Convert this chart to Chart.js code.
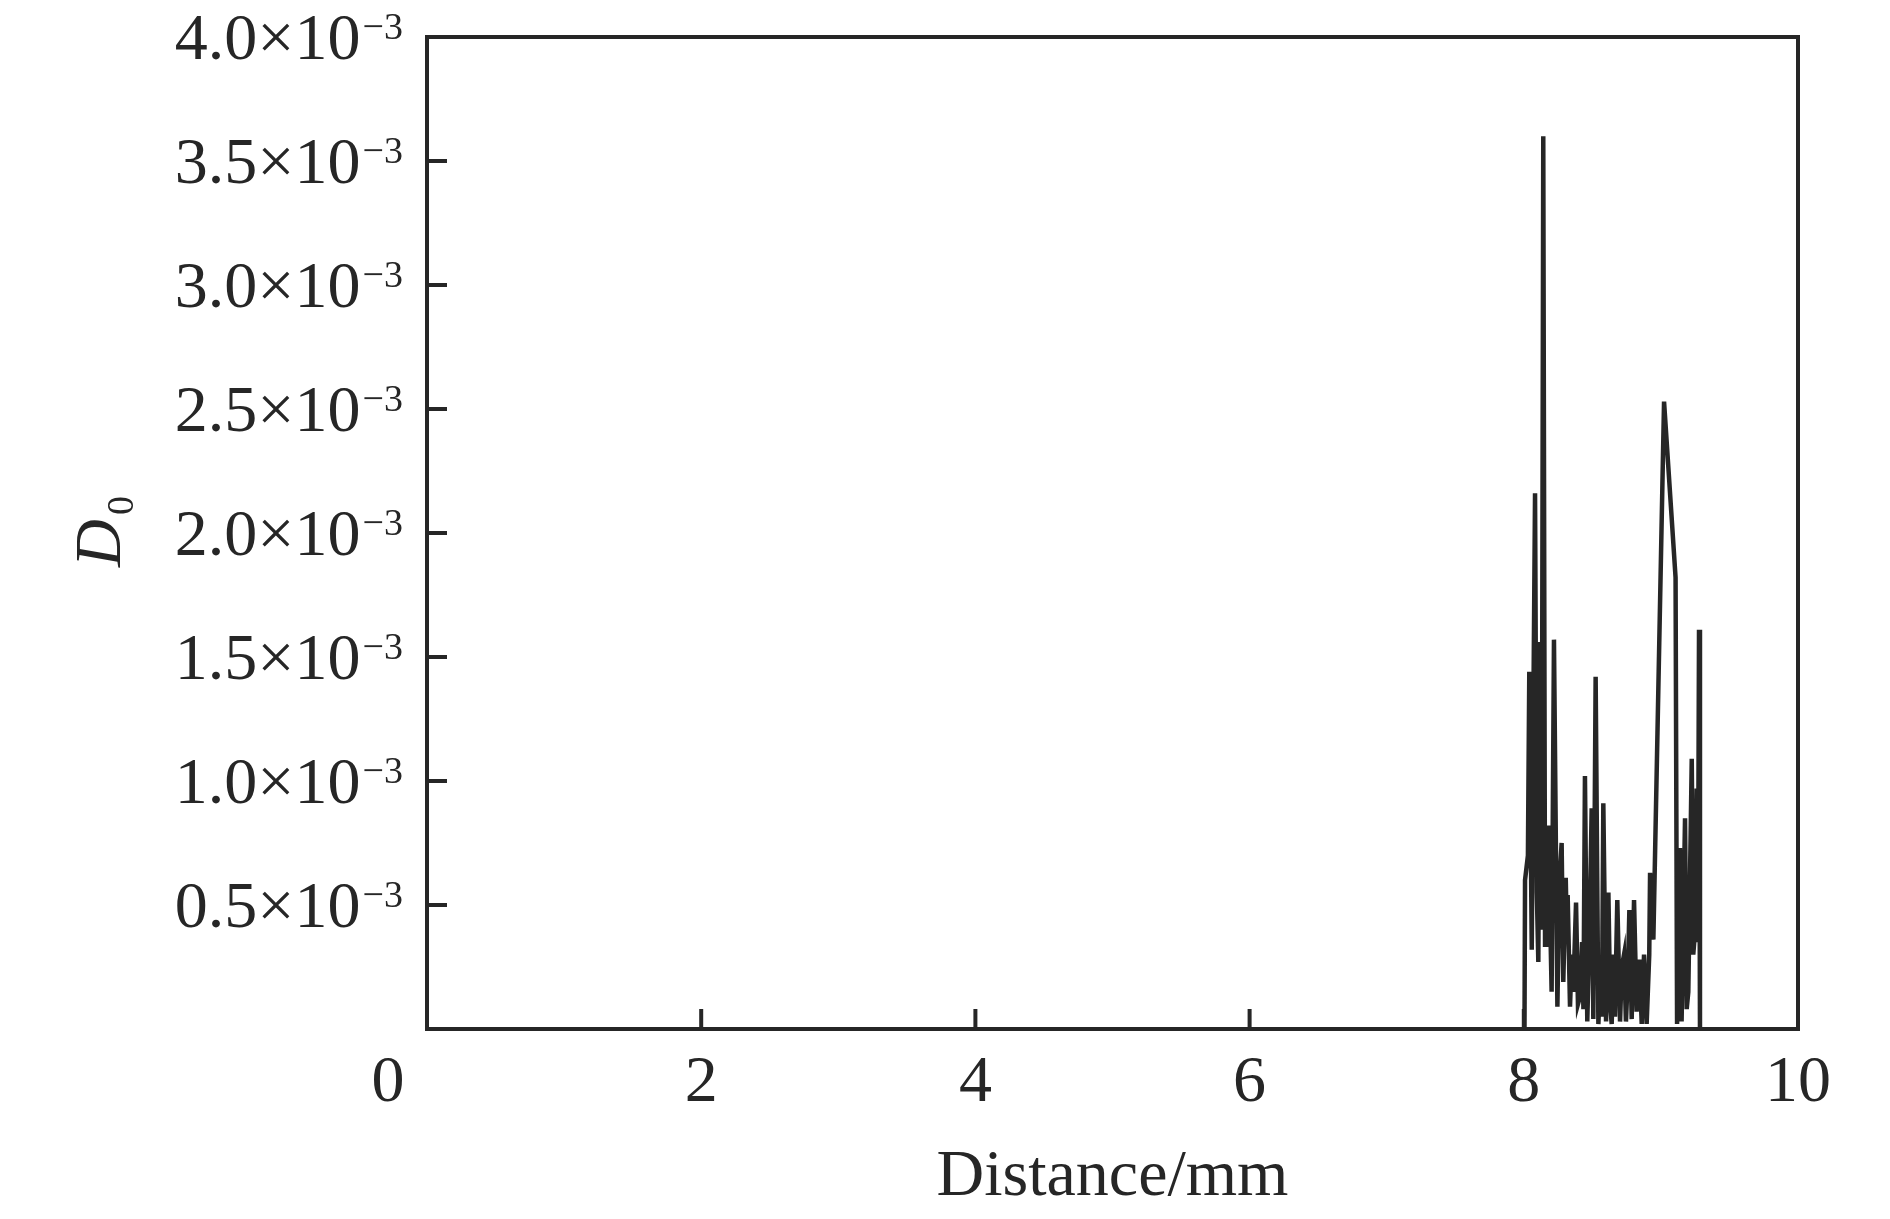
<!DOCTYPE html>
<html>
<head>
<meta charset="utf-8">
<script src="https://cdn.jsdelivr.net/npm/chart.js@4.4.1/dist/chart.umd.min.js"></script>
<style>
  html, body { margin: 0; padding: 0; background: #fff; }
  canvas { display: block; }
</style>
</head>
<body>
<canvas id="d0Chart" width="1890" height="1219"></canvas>
<script>
// D0 along the distance (D0 in units of 1e-3)
const distance = [
    8.005, 8.009, 8.030, 8.040, 8.058, 8.070, 8.082, 8.095, 8.106, 8.118,
    8.130, 8.142, 8.155, 8.167, 8.179, 8.203, 8.220, 8.245, 8.260, 8.276,
    8.288, 8.306, 8.315, 8.320, 8.337, 8.350, 8.361, 8.381, 8.395, 8.410,
    8.425, 8.435, 8.446, 8.463, 8.480, 8.495, 8.507, 8.524, 8.544, 8.560,
    8.570, 8.580, 8.600, 8.617, 8.630, 8.641, 8.655, 8.665, 8.682, 8.702,
    8.715, 8.731, 8.745, 8.758, 8.770, 8.787, 8.804, 8.823, 8.843, 8.860,
    8.877, 8.896, 8.915, 8.921, 8.945, 9.023, 9.107, 9.118, 9.139, 9.151,
    9.176, 9.188, 9.200, 9.225, 9.236, 9.250, 9.261, 9.270, 9.278, 9.285
];
const d0 = [
    0.00, 0.60, 0.70, 1.44, 0.32, 1.30, 2.16, 0.55, 0.27, 1.56,
    0.40, 3.60, 0.34, 0.34, 0.82, 0.15, 1.57, 0.09, 0.60, 0.75,
    0.19, 0.61, 0.35, 0.54, 0.09, 0.30, 0.15, 0.51, 0.10, 0.13,
    0.35, 0.08, 1.02, 0.03, 0.40, 0.89, 0.04, 1.42, 0.02, 0.25,
    0.05, 0.91, 0.03, 0.55, 0.10, 0.02, 0.30, 0.05, 0.52, 0.03,
    0.25, 0.30, 0.03, 0.20, 0.48, 0.04, 0.52, 0.07, 0.28, 0.02,
    0.30, 0.02, 0.30, 0.63, 0.36, 2.53, 1.82, 0.02, 0.73, 0.03,
    0.85, 0.08, 0.15, 1.09, 0.30, 0.40, 0.97, 0.35, 1.61, 0.00
];

const xTickValues = [0, 2, 4, 6, 8, 10];
const xTickLabels = ['0', '2', '4', '6', '8', '10'];
const yTickValues = [0.5, 1.0, 1.5, 2.0, 2.5, 3.0, 3.5, 4.0];
const yTickLabels = ['0.5', '1.0', '1.5', '2.0', '2.5', '3.0', '3.5', '4.0'];
const yExponent = '\u22123';
const xTitle = 'Distance/mm';

const INK = '#262626';
const SERIF = '"Liberation Serif", "Times New Roman", serif';

// frame, inward ticks, tick labels and axis titles
const framePlugin = {
    id: 'frame',
    afterDraw(chart) {
        const { ctx, chartArea: a, scales } = chart;
        ctx.save();
        ctx.strokeStyle = INK;
        ctx.lineWidth = 4;
        ctx.strokeRect(a.left, a.top, a.right - a.left, a.bottom - a.top);

        ctx.beginPath();
        xTickValues.forEach(v => {
            if (v <= 0 || v >= 10) return;
            const px = scales.x.getPixelForValue(v);
            ctx.moveTo(px, a.bottom);
            ctx.lineTo(px, a.bottom - 20);
        });
        yTickValues.forEach(v => {
            if (v >= 4) return;
            const py = scales.y.getPixelForValue(v);
            ctx.moveTo(a.left, py);
            ctx.lineTo(a.left + 20, py);
        });
        ctx.stroke();

        ctx.fillStyle = INK;
        ctx.textBaseline = 'alphabetic';

        // x tick labels (the "0" sits left of the corner, as in the figure)
        ctx.textAlign = 'center';
        ctx.font = '66px ' + SERIF;
        xTickValues.forEach((v, i) => {
            const px = scales.x.getPixelForValue(v) + (v === 0 ? -39 : 0);
            ctx.fillText(xTickLabels[i], px, a.bottom + 72);
        });

        // x axis title
        ctx.fillText(xTitle, (a.left + a.right) / 2, a.bottom + 166);

        // y tick labels: "3.5×10" plus superscript "−3"
        ctx.textAlign = 'right';
        const rightEdge = a.left - 24;
        yTickValues.forEach((v, i) => {
            const py = scales.y.getPixelForValue(v);
            ctx.font = '38px ' + SERIF;
            const supW = ctx.measureText(yExponent).width;
            ctx.fillText(yExponent, rightEdge, py + 2);
            ctx.font = '66px ' + SERIF;
            ctx.fillText(yTickLabels[i] + '\u00d710', rightEdge - supW - 2, py + 22);
        });

        // y axis title: italic D with subscript 0, rotated
        ctx.translate(120, 567);
        ctx.rotate(-Math.PI / 2);
        ctx.textAlign = 'left';
        ctx.font = 'italic 66px ' + SERIF;
        ctx.fillText('D', 0, 0);
        ctx.font = '38px ' + SERIF;
        ctx.fillText('0', 52, 13);
        ctx.restore();
    }
};

const points = distance.map((x, i) => ({ x: x, y: d0[i] }));

new Chart(document.getElementById('d0Chart'), {
    type: 'line',
    data: {
        datasets: [{
            data: points,
            borderColor: INK,
            borderWidth: 4.5,
            pointRadius: 0,
            tension: 0,
            fill: false
        }]
    },
    options: {
        responsive: false,
        animation: false,
        layout: { padding: { left: 0, right: 92, top: 37, bottom: 0 } },
        plugins: {
            legend: { display: false },
            tooltip: { enabled: false }
        },
        scales: {
            x: {
                type: 'linear',
                min: 0,
                max: 10,
                ticks: { display: false, stepSize: 2 },
                grid: { display: false, drawTicks: false },
                border: { display: false },
                afterFit(scale) {
                    scale.height = 190;
                    scale.paddingLeft = 0;
                    scale.paddingRight = 0;
                }
            },
            y: {
                min: 0,
                max: 4,
                ticks: { display: false, stepSize: 0.5 },
                grid: { display: false, drawTicks: false },
                border: { display: false },
                afterFit(scale) {
                    scale.width = 427;
                    scale.paddingTop = 0;
                    scale.paddingBottom = 0;
                }
            }
        }
    },
    plugins: [framePlugin]
});
</script>
</body>
</html>
